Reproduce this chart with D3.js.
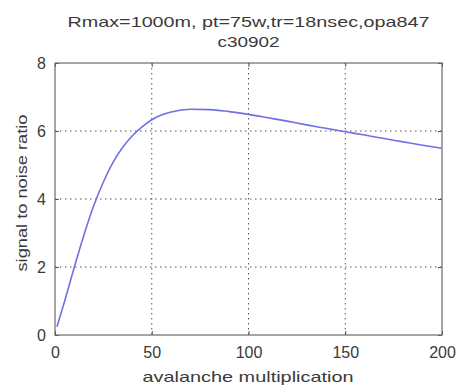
<!DOCTYPE html>
<html>
<head>
<meta charset="utf-8">
<script src="https://cdn.jsdelivr.net/npm/d3@7"></script>
<style>
  html, body { margin: 0; padding: 0; background: #fff; }
  svg { display: block; font-family: "Liberation Sans", Arial, sans-serif; }
</style>
</head>
<body>
<svg id="chart" width="460" height="385"></svg>
<script>
// Avalanche multiplication (x) and resulting signal-to-noise ratio (y)
const gain = [1, 5, 10, 15, 20, 25, 30, 35, 40, 45, 50, 55, 60, 70, 80, 90, 100,
              110, 120, 130, 140, 150, 160, 170, 180, 190, 200];
const snr  = [0.24, 1.0, 2.0, 2.95, 3.8, 4.5, 5.08, 5.52, 5.86, 6.12, 6.33, 6.47, 6.56, 6.64, 6.63, 6.57, 6.49,
              6.39, 6.29, 6.18, 6.08, 5.98, 5.88, 5.78, 5.68, 5.58, 5.49];
const xTicks = [0, 50, 100, 150, 200];
const yTicks = [0, 2, 4, 6, 8];
const titleLines = ["Rmax=1000m, pt=75w,tr=18nsec,opa847", "c30902"];
const xLabel = "avalanche multiplication";
const yLabel = "signal to noise ratio";

const svg = d3.select("#chart");
const m = { left: 55, right: 442, top: 63, bottom: 335 };

const x = d3.scaleLinear().domain([0, 200]).range([m.left, m.right]);
const y = d3.scaleLinear().domain([0, 8]).range([m.bottom, m.top]);

const textCol = "#3a3a3a";
const gridCol = "#555";

// dotted grid
const grid = svg.append("g");
grid.selectAll(".gx").data(xTicks.slice(1, -1)).join("line")
  .attr("x1", d => x(d)).attr("x2", d => x(d))
  .attr("y1", m.top).attr("y2", m.bottom)
  .attr("stroke", gridCol).attr("stroke-width", 1).attr("stroke-dasharray", "1.5,3.5");
grid.selectAll(".gy").data(yTicks.slice(1, -1)).join("line")
  .attr("y1", d => y(d)).attr("y2", d => y(d))
  .attr("x1", m.left).attr("x2", m.right)
  .attr("stroke", gridCol).attr("stroke-width", 1).attr("stroke-dasharray", "1.5,3.5");

// axes with inward ticks
const xAxis = d3.axisBottom(x).tickValues(xTicks).tickSize(-4).tickPadding(12).tickFormat(d3.format("d"));
const xAxisTop = d3.axisTop(x).tickValues(xTicks).tickSize(-4).tickFormat("");
const yAxis = d3.axisLeft(y).tickValues(yTicks).tickSize(-4).tickPadding(9).tickFormat(d3.format("d"));
const yAxisRight = d3.axisRight(y).tickValues(yTicks).tickSize(-4).tickFormat("");

function styleAxis(g) {
  g.select(".domain").remove();
  g.selectAll(".tick line").attr("stroke", "#555");
  g.selectAll(".tick text").attr("fill", textCol).attr("font-size", 16)
    .attr("font-family", "Liberation Sans, Arial, sans-serif");
}
svg.append("g").attr("transform", `translate(0,${m.bottom})`).call(xAxis).call(styleAxis);
svg.append("g").attr("transform", `translate(0,${m.top})`).call(xAxisTop).call(styleAxis);
svg.append("g").attr("transform", `translate(${m.left},0)`).call(yAxis).call(styleAxis);
svg.append("g").attr("transform", `translate(${m.right},0)`).call(yAxisRight).call(styleAxis);

// frame
svg.append("rect")
  .attr("x", m.left).attr("y", m.top)
  .attr("width", m.right - m.left).attr("height", m.bottom - m.top)
  .attr("fill", "none").attr("stroke", "#6a6a6a").attr("stroke-width", 1.2);

// SNR curve
const line = d3.line().x((d, i) => x(gain[i])).y(d => y(d)).curve(d3.curveMonotoneX);
svg.append("path").datum(snr)
  .attr("d", line)
  .attr("fill", "none").attr("stroke", "#7070e4").attr("stroke-width", 1.6);

// title (wide, stretched lettering)
const cx = (m.left + m.right) / 2;
svg.append("text").attr("x", cx).attr("y", 27).attr("text-anchor", "middle")
  .attr("font-size", 15).attr("fill", textCol)
  .attr("textLength", 362).attr("lengthAdjust", "spacingAndGlyphs").text(titleLines[0]);
svg.append("text").attr("x", cx).attr("y", 47).attr("text-anchor", "middle")
  .attr("font-size", 15).attr("fill", textCol)
  .attr("textLength", 62).attr("lengthAdjust", "spacingAndGlyphs").text(titleLines[1]);

// axis labels
svg.append("text").attr("x", 248).attr("y", 382).attr("text-anchor", "middle")
  .attr("font-size", 15).attr("fill", textCol)
  .attr("textLength", 211).attr("lengthAdjust", "spacingAndGlyphs").text(xLabel);
svg.append("text").attr("transform", "translate(27,193) rotate(-90)")
  .attr("text-anchor", "middle").attr("font-size", 15).attr("fill", textCol)
  .attr("textLength", 157).attr("lengthAdjust", "spacingAndGlyphs").text(yLabel);
</script>
</body>
</html>
